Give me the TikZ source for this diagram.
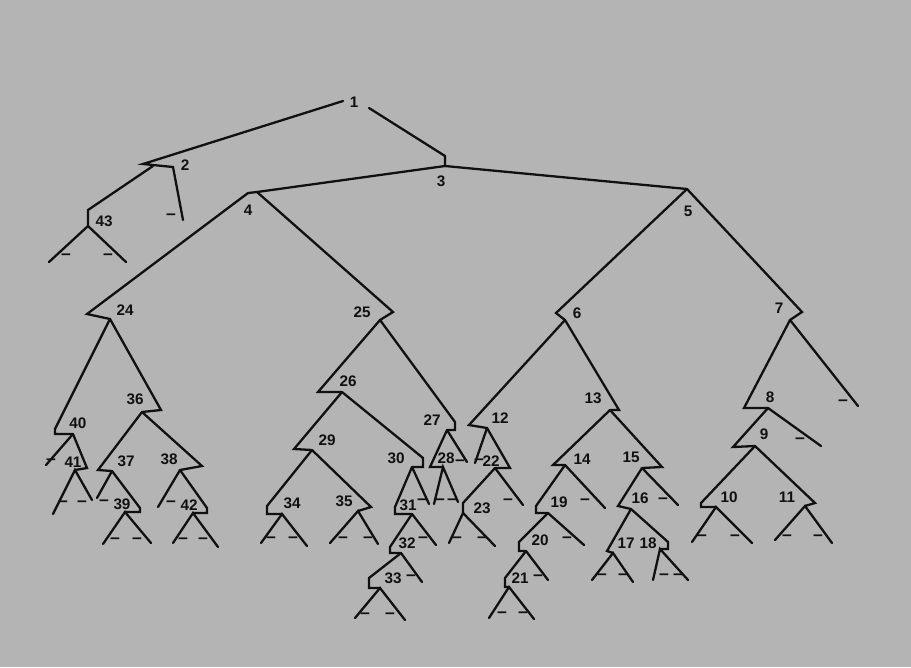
\documentclass[tikz,border=0pt]{standalone}
\usepackage{fontspec}
\setsansfont{Liberation Sans}
\usepackage{xcolor}
\definecolor{PaperGray}{HTML}{B4B4B4}
\definecolor{InkBlack}{HTML}{101010}

\begin{document}
\begin{tikzpicture}[
  x=0.02cm, y=-0.02cm,
  branch/.style={draw=InkBlack, line width=1.3pt, line join=miter, line cap=round},
  vlabel/.style={inner sep=0pt, text=InkBlack, font=\sffamily\bfseries\fontsize{8.7}{10}\selectfont},
  leafmark/.style={inner sep=0pt, text=InkBlack, font=\sffamily\bfseries\fontsize{10}{11}\selectfont}
]
  \fill[PaperGray] (0,0) rectangle (911,667);

  % tips (t) and joints (j) of the vertices
  \coordinate (l1) at (343,101);
  \coordinate (r1) at (369,108);
  \coordinate (t2) at (143,164);  \coordinate (j2) at (153,166);  \coordinate (k2) at (173,167);
  \coordinate (t43) at (88,210);  \coordinate (j43) at (88,226);
  \coordinate (t3) at (445,156);  \coordinate (j3) at (445,166);
  \coordinate (t4) at (257,192);  \coordinate (j4) at (248,193);
  \coordinate (t5) at (687,189);
  \coordinate (t24) at (87,314);  \coordinate (j24) at (110,319);
  \coordinate (t40) at (55,429);  \coordinate (j40) at (73,434);
  \coordinate (t41) at (87,468);  \coordinate (j41) at (75,470);
  \coordinate (t36) at (161,410); \coordinate (j36) at (142,412);
  \coordinate (t37) at (98,470);  \coordinate (j37) at (112,471);
  \coordinate (t39) at (140,508); \coordinate (j39) at (125,512);
  \coordinate (t38) at (202,466); \coordinate (j38) at (180,470);
  \coordinate (t42) at (207,508); \coordinate (j42) at (193,513);
  \coordinate (t25) at (393,312); \coordinate (j25) at (380,320);
  \coordinate (t26) at (318,392); \coordinate (j26) at (342,392);
  \coordinate (t29) at (294,449); \coordinate (j29) at (312,450);
  \coordinate (t34) at (267,506); \coordinate (j34) at (282,514);
  \coordinate (t35) at (371,507); \coordinate (j35) at (358,511);
  \coordinate (t30) at (423,458); \coordinate (j30) at (412,467);
  \coordinate (t31) at (395,507); \coordinate (j31) at (412,514);
  \coordinate (t32) at (390,547); \coordinate (j32) at (401,553);
  \coordinate (t33) at (369,578); \coordinate (j33) at (380,588);
  \coordinate (t27) at (455,422); \coordinate (j27) at (447,430);
  \coordinate (t28) at (430,467); \coordinate (j28) at (443,467);
  \coordinate (t6) at (556,313);  \coordinate (j6) at (565,320);
  \coordinate (t12) at (469,425); \coordinate (j12) at (487,428);
  \coordinate (t22) at (510,468); \coordinate (j22) at (495,468);
  \coordinate (t23) at (463,503); \coordinate (j23) at (463,513);
  \coordinate (t13) at (619,410); \coordinate (j13) at (610,410);
  \coordinate (t14) at (553,465); \coordinate (j14) at (565,465);
  \coordinate (t19) at (536,506); \coordinate (j19) at (548,513);
  \coordinate (t20) at (519,542); \coordinate (j20) at (526,551);
  \coordinate (t21) at (505,578); \coordinate (j21) at (509,587);
  \coordinate (t15) at (662,467); \coordinate (j15) at (642,468);
  \coordinate (t16) at (618,506); \coordinate (j16) at (631,509);
  \coordinate (t17) at (607,551); \coordinate (j17) at (613,553);
  \coordinate (t18) at (668,542); \coordinate (j18) at (660,549);
  \coordinate (t7) at (802,312);  \coordinate (j7) at (790,320);
  \coordinate (t8) at (744,408);  \coordinate (j8) at (768,408);
  \coordinate (t9) at (733,447);  \coordinate (j9) at (755,446);
  \coordinate (t10) at (701,503); \coordinate (j10) at (716,507);
  \coordinate (t11) at (815,503); \coordinate (j11) at (805,506);

  % free ends of the leaves
  \coordinate (e2) at (183,220);
  \coordinate (e43a) at (49,262);  \coordinate (e43b) at (126,262);
  \coordinate (e40) at (46,465);
  \coordinate (e41a) at (53,514);  \coordinate (e41b) at (92,500);
  \coordinate (e37) at (97,498);
  \coordinate (e39a) at (103,544); \coordinate (e39b) at (151,543);
  \coordinate (e38) at (158,507);
  \coordinate (e42a) at (173,543); \coordinate (e42b) at (218,547);
  \coordinate (e34a) at (261,543); \coordinate (e34b) at (307,546);
  \coordinate (e35a) at (330,543); \coordinate (e35b) at (378,544);
  \coordinate (e30) at (429,504);
  \coordinate (e31) at (436,545);
  \coordinate (e32) at (422,582);
  \coordinate (e33a) at (355,618); \coordinate (e33b) at (405,620);
  \coordinate (e27) at (467,462);
  \coordinate (e28a) at (434,504); \coordinate (e28b) at (458,502);
  \coordinate (e12) at (475,463);
  \coordinate (e22) at (523,505);
  \coordinate (e23a) at (449,543); \coordinate (e23b) at (495,546);
  \coordinate (e14) at (605,508);
  \coordinate (e19) at (584,545);
  \coordinate (e20) at (548,580);
  \coordinate (e21a) at (489,618); \coordinate (e21b) at (534,619);
  \coordinate (e15) at (678,505);
  \coordinate (e17a) at (592,580); \coordinate (e17b) at (633,582);
  \coordinate (e18a) at (653,580); \coordinate (e18b) at (688,580);
  \coordinate (e7) at (858,406);
  \coordinate (e8) at (821,446);
  \coordinate (e10a) at (692,542); \coordinate (e10b) at (752,543);
  \coordinate (e11a) at (775,540); \coordinate (e11b) at (832,543);

  % inner branches
  \draw[branch] (l1) -- (t2) -- (k2) -- (e2);
  \draw[branch] (j2) -- (t43) -- (j43);
  \draw[branch] (r1) -- (t3) -- (j3);
  \draw[branch] (j3) -- (t4) -- (j4);
  \draw[branch] (j3) -- (t5);
  \draw[branch] (j4) -- (t24) -- (j24);
  \draw[branch] (t4) -- (t25) -- (j25);
  \draw[branch] (j24) -- (t40) |- (j40);
  \draw[branch] (j40) -- (t41) -- (j41);
  \draw[branch] (j24) -- (t36) -- (j36);
  \draw[branch] (j36) -- (t37) -- (j37);
  \draw[branch] (j37) -- (t39) |- (j39);
  \draw[branch] (j36) -- (t38) -- (j38);
  \draw[branch] (j38) -- (t42) |- (j42);
  \draw[branch] (j25) -- (t26) -- (j26);
  \draw[branch] (j26) -- (t29) -- (j29);
  \draw[branch] (j29) -- (t34) |- (j34);
  \draw[branch] (j29) -- (t35) -- (j35);
  \draw[branch] (j26) -- (t30) |- (j30);
  \draw[branch] (j30) -- (t31) |- (j31);
  \draw[branch] (j31) -- (t32) |- (j32);
  \draw[branch] (j32) -- (t33) |- (j33);
  \draw[branch] (j25) -- (t27) |- (j27);
  \draw[branch] (j27) -- (t28) -- (j28);
  \draw[branch] (t5) -- (t6) -- (j6);
  \draw[branch] (t5) -- (t7) -- (j7);
  \draw[branch] (j6) -- (t12) -- (j12);
  \draw[branch] (j12) -- (t22) -- (j22);
  \draw[branch] (j22) -- (t23) -- (j23);
  \draw[branch] (j6) -- (t13) -- (j13);
  \draw[branch] (j13) -- (t14) -- (j14);
  \draw[branch] (j14) -- (t19) |- (j19);
  \draw[branch] (j19) -- (t20) |- (j20);
  \draw[branch] (j20) -- (t21) |- (j21);
  \draw[branch] (j13) -- (t15) -- (j15);
  \draw[branch] (j15) -- (t16) -- (j16);
  \draw[branch] (j16) -- (t17) -- (j17);
  \draw[branch] (j16) -- (t18) |- (j18);
  \draw[branch] (j7) -- (t8) -- (j8);
  \draw[branch] (j8) -- (t9) -- (j9);
  \draw[branch] (j9) -- (t10) |- (j10);
  \draw[branch] (j9) -- (t11) -- (j11);

  % leaves
  \draw[branch] (e43a) -- (j43) -- (e43b);
  \draw[branch] (j40) -- (e40);
  \draw[branch] (e41a) -- (j41) -- (e41b);
  \draw[branch] (j37) -- (e37);
  \draw[branch] (e39a) -- (j39) -- (e39b);
  \draw[branch] (j38) -- (e38);
  \draw[branch] (e42a) -- (j42) -- (e42b);
  \draw[branch] (e34a) -- (j34) -- (e34b);
  \draw[branch] (e35a) -- (j35) -- (e35b);
  \draw[branch] (j30) -- (e30);
  \draw[branch] (j31) -- (e31);
  \draw[branch] (j32) -- (e32);
  \draw[branch] (e33a) -- (j33) -- (e33b);
  \draw[branch] (j27) -- (e27);
  \draw[branch] (e28a) -- (j28) -- (e28b);
  \draw[branch] (j12) -- (e12);
  \draw[branch] (j22) -- (e22);
  \draw[branch] (e23a) -- (j23) -- (e23b);
  \draw[branch] (j14) -- (e14);
  \draw[branch] (j19) -- (e19);
  \draw[branch] (j20) -- (e20);
  \draw[branch] (e21a) -- (j21) -- (e21b);
  \draw[branch] (j15) -- (e15);
  \draw[branch] (e17a) -- (j17) -- (e17b);
  \draw[branch] (e18a) -- (j18) -- (e18b);
  \draw[branch] (j7) -- (e7);
  \draw[branch] (j8) -- (e8);
  \draw[branch] (e10a) -- (j10) -- (e10b);
  \draw[branch] (e11a) -- (j11) -- (e11b);

  % vertex numbers
  \node[vlabel] (n1) at (354,102) {1};
  \node[vlabel] (n2) at (185,165) {2};
  \node[vlabel] (n3) at (441,181) {3};
  \node[vlabel] (n4) at (248,210) {4};
  \node[vlabel] (n5) at (688,211) {5};
  \node[vlabel] (n6) at (577,313) {6};
  \node[vlabel] (n7) at (779,308) {7};
  \node[vlabel] (n8) at (770,397) {8};
  \node[vlabel] (n9) at (764,434) {9};
  \node[vlabel] (n10) at (729,497) {10};
  \node[vlabel] (n11) at (787,497) {11};
  \node[vlabel] (n12) at (500,418) {12};
  \node[vlabel] (n13) at (593,398) {13};
  \node[vlabel] (n14) at (582,459) {14};
  \node[vlabel] (n15) at (631,457) {15};
  \node[vlabel] (n16) at (640,498) {16};
  \node[vlabel] (n17) at (626,543) {17};
  \node[vlabel] (n18) at (648,543) {18};
  \node[vlabel] (n19) at (559,502) {19};
  \node[vlabel] (n20) at (540,540) {20};
  \node[vlabel] (n21) at (520,578) {21};
  \node[vlabel] (n22) at (491,461) {22};
  \node[vlabel] (n23) at (482,508) {23};
  \node[vlabel] (n24) at (125,310) {24};
  \node[vlabel] (n25) at (362,312) {25};
  \node[vlabel] (n26) at (348,381) {26};
  \node[vlabel] (n27) at (432,420) {27};
  \node[vlabel] (n28) at (446,458) {28};
  \node[vlabel] (n29) at (327,440) {29};
  \node[vlabel] (n30) at (396,458) {30};
  \node[vlabel] (n31) at (408,505) {31};
  \node[vlabel] (n32) at (407,543) {32};
  \node[vlabel] (n33) at (393,578) {33};
  \node[vlabel] (n34) at (292,503) {34};
  \node[vlabel] (n35) at (344,501) {35};
  \node[vlabel] (n36) at (135,399) {36};
  \node[vlabel] (n37) at (126,461) {37};
  \node[vlabel] (n38) at (169,459) {38};
  \node[vlabel] (n39) at (122,504) {39};
  \node[vlabel] (n40) at (78,423) {40};
  \node[vlabel] (n41) at (73,462) {41};
  \node[vlabel] (n42) at (189,505) {42};
  \node[vlabel] (n43) at (104,221) {43};

  % leaf marks
  \node[leafmark] (d2) at (171,217) {–};
  \node[leafmark] (d43a) at (66,257) {–};
  \node[leafmark] (d43b) at (108,257) {–};
  \node[leafmark] (d40) at (51,462) {–};
  \node[leafmark] (d41a) at (63,504) {–};
  \node[leafmark] (d41b) at (82,504) {–};
  \node[leafmark] (d37) at (104,503) {–};
  \node[leafmark] (d39a) at (115,541) {–};
  \node[leafmark] (d39b) at (137,541) {–};
  \node[leafmark] (d38) at (171,504) {–};
  \node[leafmark] (d42a) at (183,541) {–};
  \node[leafmark] (d42b) at (203,541) {–};
  \node[leafmark] (d34a) at (271,540) {–};
  \node[leafmark] (d34b) at (293,540) {–};
  \node[leafmark] (d35a) at (343,540) {–};
  \node[leafmark] (d35b) at (368,540) {–};
  \node[leafmark] (d30) at (422,502) {–};
  \node[leafmark] (d31) at (423,540) {–};
  \node[leafmark] (d32) at (411,578) {–};
  \node[leafmark] (d33a) at (365,616) {–};
  \node[leafmark] (d33b) at (390,616) {–};
  \node[leafmark] (d27) at (460,463) {–};
  \node[leafmark] (d28a) at (440,502) {–};
  \node[leafmark] (d28b) at (452,502) {–};
  \node[leafmark] (d12) at (479,462) {–};
  \node[leafmark] (d22) at (508,502) {–};
  \node[leafmark] (d23a) at (457,540) {–};
  \node[leafmark] (d23b) at (482,540) {–};
  \node[leafmark] (d14) at (585,502) {–};
  \node[leafmark] (d19) at (567,540) {–};
  \node[leafmark] (d20) at (538,578) {–};
  \node[leafmark] (d21a) at (502,615) {–};
  \node[leafmark] (d21b) at (523,615) {–};
  \node[leafmark] (d15) at (663,501) {–};
  \node[leafmark] (d17a) at (602,577) {–};
  \node[leafmark] (d17b) at (623,577) {–};
  \node[leafmark] (d18a) at (664,577) {–};
  \node[leafmark] (d18b) at (678,577) {–};
  \node[leafmark] (d7) at (843,403) {–};
  \node[leafmark] (d8) at (800,441) {–};
  \node[leafmark] (d10a) at (702,538) {–};
  \node[leafmark] (d10b) at (735,538) {–};
  \node[leafmark] (d11a) at (787,538) {–};
  \node[leafmark] (d11b) at (818,538) {–};
\end{tikzpicture}
\end{document}
